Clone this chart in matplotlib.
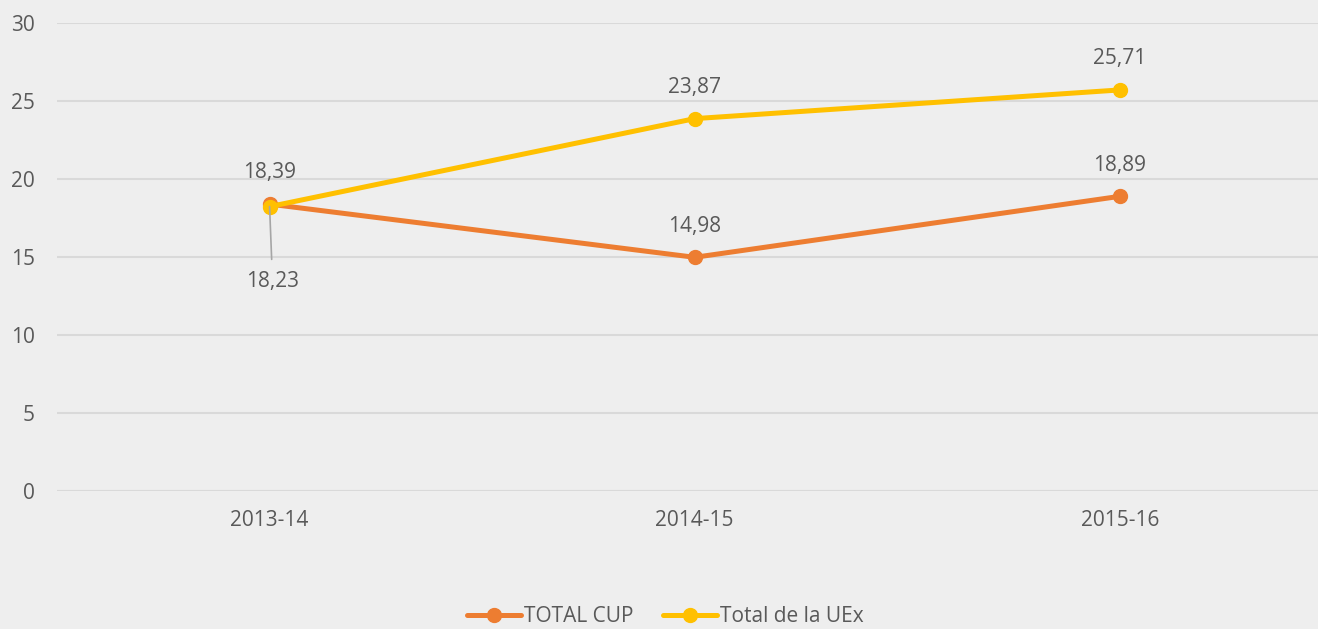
import matplotlib.pyplot as plt

# =========================
# DADOS
# =========================

CATEGORIES = ["2013-14", "2014-15", "2015-16"]
TOTAL_CUP = [18.39, 14.98, 18.89]
TOTAL_UEX = [18.23, 23.87, 25.71]
Y_TICKS = [0, 5, 10, 15, 20, 25, 30]

ORANGE = "#ED7D31"
GOLD = "#FFC000"
TEXT = "#595959"
GRID = "#D9D9D9"
BG = "#EEEEEE"

plt.rcParams["font.family"] = ["Open Sans", "DejaVu Sans"]


def fmt(v):
    return f"{v:.2f}".replace(".", ",")


fig = plt.figure(figsize=(13.18, 6.29), dpi=100, facecolor=BG)
ax = fig.add_axes([57 / 1318, 138 / 629, 1275.5 / 1318, 468 / 629])
ax.set_facecolor(BG)

x = list(range(len(CATEGORIES)))
ax.plot(x, TOTAL_CUP, color=ORANGE, lw=3.6, marker="o", ms=10,
        solid_capstyle="round", label="TOTAL CUP", zorder=3)
ax.plot(x, TOTAL_UEX, color=GOLD, lw=3.6, marker="o", ms=10,
        solid_capstyle="round", label="Total de la UEx", zorder=4)

# rótulos de dados
for i, v in enumerate(TOTAL_CUP):
    ax.annotate(fmt(v), (i, v), xytext=(0, 22.5), textcoords="offset points",
                ha="center", va="center", fontsize=15, color=TEXT)

for i, v in enumerate(TOTAL_UEX):
    if i == 0:
        # linha de chamada do rótulo deslocado
        ax.annotate("", (i, v), xytext=(1.5, -38), textcoords="offset points",
                    arrowprops=dict(arrowstyle="-", color="#A6A6A6", lw=1.2,
                                    shrinkA=0, shrinkB=0), zorder=5)
        ax.annotate(fmt(v), (i, v), xytext=(2, -54), textcoords="offset points",
                    ha="center", va="center", fontsize=15, color=TEXT)
    else:
        ax.annotate(fmt(v), (i, v), xytext=(0, 22.5), textcoords="offset points",
                    ha="center", va="center", fontsize=15, color=TEXT)

ax.set_xlim(-0.5, 2.5)
ax.set_ylim(0, 30)
ax.set_yticks(Y_TICKS)
ax.set_xticks(x)
ax.set_xticklabels(CATEGORIES)
ax.yaxis.grid(True, color=GRID, lw=1.5)
ax.set_axisbelow(True)
for s in ax.spines.values():
    s.set_visible(False)
ax.axhline(0, color=GRID, lw=1.5, zorder=1)
ax.tick_params(length=0, labelsize=15, labelcolor=TEXT)
ax.tick_params(axis="y", pad=16)
ax.tick_params(axis="x", pad=14)

fig.legend(loc="center", bbox_to_anchor=(665 / 1318, 1 - 617 / 629), ncol=2,
           frameon=False, fontsize=15, labelcolor=TEXT, handlelength=2.6,
           handletextpad=0.15, columnspacing=1.4)

fig.savefig("out.png", dpi=100, facecolor=BG)
